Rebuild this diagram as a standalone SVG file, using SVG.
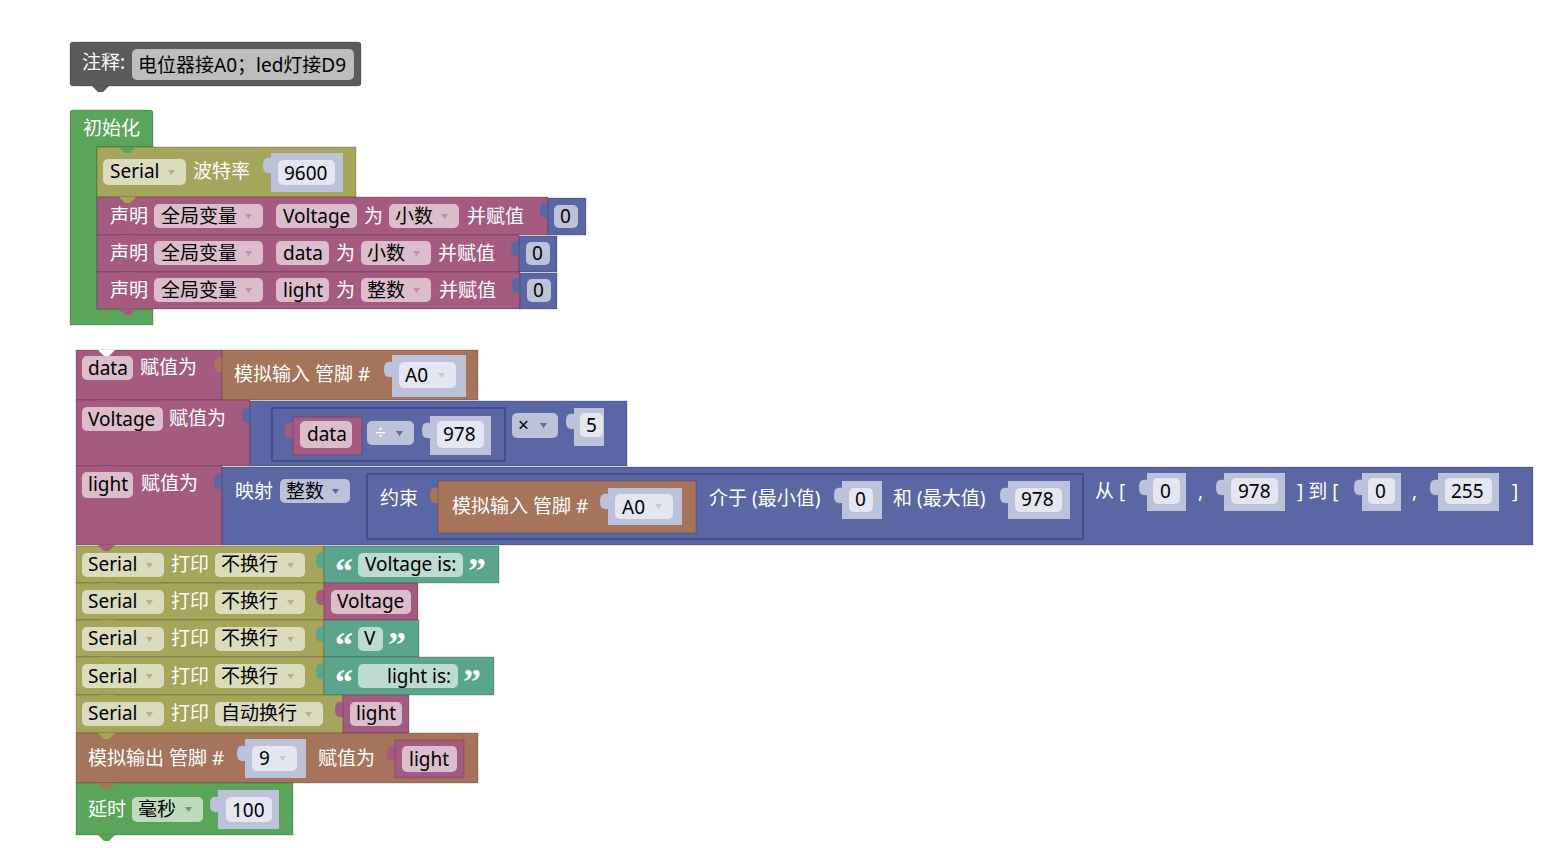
<svg xmlns="http://www.w3.org/2000/svg" xmlns:xlink="http://www.w3.org/1999/xlink" width="1557" height="848" viewBox="0 0 1557 848">
<style>
text{font-family:"Noto Sans","Noto Sans CJK SC",sans-serif;font-size:19px}
.t{fill:#ffffff}
.f{fill:#000000}
.q{fill:#ffffff;font-family:"Liberation Serif",serif;font-size:36px;font-weight:bold}
.b{stroke:rgba(0,0,0,0.2);stroke-width:1}
.fr{stroke:#3e4880;stroke-width:1.5}
.gy{fill:#5b5b5b}
.gn{fill:#5ba55b}
.ol{fill:#a5a55b}
.pk{fill:#a55b80}
.bl{fill:#5b67a5}
.br{fill:#a5745b}
.tl{fill:#5ba58c}
.lv{fill:#bdc2db}
.fgy{fill:#bdbdbd}
.fgn{fill:#bddbbd}
.fol{fill:#dbdbbd}
.fpk{fill:#dbbdcc}
.ftl{fill:#bddbd1}
.flv{fill:#e4e6f1}
.aol{fill:#b3b37a}
.apk{fill:#c28ea8}
.abl{fill:#5b67a5}
.alv{fill:#c3c7de}
.agn{fill:#5ba55b}
</style>
<defs>
<path id="tab" d="M0,0 C-2,0 -8,-2 -8,7.5 C-8,17 -2,15 0,15 Z"/>
<path id="dd" d="M0,0 h7 l-3.5,5 z"/>
<path id="nt" d="M0,0 l6,6 h5 l6,-6 z"/>
</defs>

<g id="comment">
<rect class="gy b" x="70" y="42" width="291" height="44" rx="3"/>
<use xlink:href="#nt" class="gy" x="92" y="86"/>
<text class="t" x="82" y="69">注释:</text>
<rect class="fgy" x="132" y="49" width="222" height="31" rx="5"/>
<text class="f" x="138" y="72">电位器接A0；led灯接D9</text>
</g>

<g id="setup">
<path class="gn b" d="M70,113 a3,3 0 0 1 3,-3 H150 a3,3 0 0 1 3,3 V147 H97 V309 H153 V325 H70 Z"/>
<text class="t" x="83" y="135">初始化</text>
</g>

<g id="serial-begin">
<rect class="ol b" x="97" y="147" width="259" height="50"/>
<use xlink:href="#nt" class="gn" x="119" y="147"/>
<rect class="fol" x="103" y="159" width="83" height="26" rx="5"/>
<text class="f" x="110" y="178">Serial</text>
<use xlink:href="#dd" class="aol" x="168" y="170"/>
<text class="t" x="193" y="178">波特率</text>
<use xlink:href="#tab" class="lv" x="271" y="158"/>
<rect class="lv" x="271" y="153" width="72" height="39"/>
<rect class="flv" x="278" y="160" width="57" height="25" rx="5"/>
<text class="f" x="284" y="180">9600</text>
</g>

<g id="decl-voltage">
<rect class="pk b" x="97" y="197" width="451" height="38"/>
<use xlink:href="#nt" class="ol" x="119" y="197"/>
<text class="t" x="110" y="223">声明</text>
<rect class="fpk" x="154" y="204" width="109" height="24" rx="5"/>
<text class="f" x="161" y="223">全局变量</text>
<use xlink:href="#dd" class="apk" x="245" y="214"/>
<rect class="fpk" x="276" y="204" width="81" height="24" rx="5"/>
<text class="f" x="283" y="223">Voltage</text>
<text class="t" x="364" y="223">为</text>
<rect class="fpk" x="389" y="204" width="70" height="24" rx="5"/>
<text class="f" x="395" y="223">小数</text>
<use xlink:href="#dd" class="apk" x="441" y="214"/>
<text class="t" x="467" y="223">并赋值</text>
<use xlink:href="#tab" class="bl" x="548" y="203"/>
<rect class="bl b" x="548" y="198" width="38" height="37"/>
<rect class="lv" x="554" y="205" width="24" height="23" rx="5"/>
<text class="f" x="560" y="223">0</text>
</g>

<g id="decl-data">
<rect class="pk b" x="97" y="235" width="422" height="37"/>
<use xlink:href="#nt" class="pk" x="119" y="235"/>
<text class="t" x="110" y="260">声明</text>
<rect class="fpk" x="154" y="241" width="109" height="24" rx="5"/>
<text class="f" x="161" y="260">全局变量</text>
<use xlink:href="#dd" class="apk" x="245" y="251"/>
<rect class="fpk" x="276" y="241" width="53" height="24" rx="5"/>
<text class="f" x="283" y="260">data</text>
<text class="t" x="336" y="260">为</text>
<rect class="fpk" x="361" y="241" width="70" height="24" rx="5"/>
<text class="f" x="367" y="260">小数</text>
<use xlink:href="#dd" class="apk" x="413" y="251"/>
<text class="t" x="438" y="260">并赋值</text>
<use xlink:href="#tab" class="bl" x="519" y="241"/>
<rect class="bl b" x="519" y="236" width="38" height="36"/>
<rect class="lv" x="526" y="242" width="24" height="23" rx="5"/>
<text class="f" x="532" y="260">0</text>
</g>

<g id="decl-light">
<rect class="pk b" x="97" y="272" width="423" height="37"/>
<use xlink:href="#nt" class="pk" x="119" y="272"/>
<text class="t" x="110" y="297">声明</text>
<rect class="fpk" x="154" y="278" width="109" height="24" rx="5"/>
<text class="f" x="161" y="297">全局变量</text>
<use xlink:href="#dd" class="apk" x="245" y="288"/>
<rect class="fpk" x="276" y="278" width="53" height="24" rx="5"/>
<text class="f" x="283" y="297">light</text>
<text class="t" x="336" y="297">为</text>
<rect class="fpk" x="361" y="278" width="70" height="24" rx="5"/>
<text class="f" x="367" y="297">整数</text>
<use xlink:href="#dd" class="apk" x="413" y="288"/>
<text class="t" x="439" y="297">并赋值</text>
<use xlink:href="#tab" class="bl" x="520" y="278"/>
<rect class="bl b" x="520" y="273" width="37" height="36"/>
<rect class="lv" x="527" y="279" width="24" height="23" rx="5"/>
<text class="f" x="533" y="297">0</text>
<use xlink:href="#nt" class="pk" x="119" y="309"/>
</g>

<g id="set-data">
<rect class="pk b" x="76" y="350" width="146" height="50"/>
<use xlink:href="#nt" fill="#ffffff" x="98" y="350"/>
<rect class="fpk" x="82" y="356" width="51" height="24" rx="5"/>
<text class="f" x="88" y="375">data</text>
<text class="t" x="140" y="374">赋值为</text>
<use xlink:href="#tab" class="br" x="222" y="357"/>
<rect class="br b" x="222" y="350" width="256" height="50"/>
<text class="t" x="234" y="381">模拟输入 管脚 #</text>
<use xlink:href="#tab" class="lv" x="392" y="362"/>
<rect class="lv" x="392" y="355" width="74" height="42"/>
<rect class="flv" x="399" y="362" width="57" height="26" rx="5"/>
<text class="f" x="405" y="382">A0</text>
<use xlink:href="#dd" class="alv" x="438" y="373"/>
</g>

<g id="set-voltage">
<rect class="pk b" x="76" y="400" width="174" height="66"/>
<use xlink:href="#nt" class="pk" x="98" y="400"/>
<rect class="fpk" x="82" y="407" width="81" height="24" rx="5"/>
<text class="f" x="88" y="426">Voltage</text>
<text class="t" x="169" y="425">赋值为</text>
<use xlink:href="#tab" class="bl" x="250" y="408"/>
<rect class="bl b" x="250" y="401" width="377" height="65"/>
<use xlink:href="#tab" class="bl" x="272" y="415"/>
<rect class="bl fr" x="272" y="408" width="233" height="53"/>
<use xlink:href="#tab" class="pk" x="293" y="423"/>
<rect class="pk b" x="293" y="417" width="69" height="38"/>
<rect class="fpk" x="300" y="421" width="52" height="27" rx="5"/>
<text class="f" x="307" y="441">data</text>
<rect class="lv" x="367" y="421" width="47" height="24" rx="5"/>
<text class="t" x="375" y="439">÷</text>
<use xlink:href="#dd" class="abl" x="396" y="431"/>
<use xlink:href="#tab" class="lv" x="430" y="423"/>
<rect class="lv" x="430" y="416" width="61" height="39"/>
<rect class="flv" x="437" y="421" width="47" height="27" rx="5"/>
<text class="f" x="443" y="441">978</text>
<rect class="lv" x="512" y="413" width="46" height="25" rx="5"/>
<text class="f" x="518" y="432">×</text>
<use xlink:href="#dd" class="abl" x="540" y="423"/>
<use xlink:href="#tab" class="lv" x="574" y="414"/>
<rect class="lv" x="574" y="408" width="30" height="38"/>
<rect class="flv" x="580" y="413" width="23" height="24" rx="5"/>
<text class="f" x="586" y="432">5</text>
</g>

<g id="set-light">
<rect class="pk b" x="76" y="466" width="146" height="79"/>
<use xlink:href="#nt" class="pk" x="98" y="466"/>
<rect class="fpk" x="82" y="472" width="51" height="26" rx="5"/>
<text class="f" x="88" y="491">light</text>
<text class="t" x="141" y="490">赋值为</text>
<use xlink:href="#tab" class="bl" x="222" y="474"/>
<rect class="bl b" x="222" y="467" width="1311" height="78"/>
<text class="t" x="235" y="498">映射</text>
<rect class="lv" x="280" y="479" width="70" height="24" rx="5"/>
<text class="f" x="286" y="498">整数</text>
<use xlink:href="#dd" class="abl" x="332" y="489"/>
<use xlink:href="#tab" class="bl" x="367" y="481"/>
<rect class="bl fr" x="367" y="474" width="716" height="65"/>
<text class="t" x="380" y="505">约束</text>
<use xlink:href="#tab" class="br" x="438" y="488"/>
<rect class="br b" x="438" y="481" width="258" height="52"/>
<text class="t" x="452" y="513">模拟输入 管脚 #</text>
<use xlink:href="#tab" class="lv" x="608" y="494"/>
<rect class="lv" x="608" y="488" width="74" height="37"/>
<rect class="flv" x="615" y="494" width="58" height="25" rx="5"/>
<text class="f" x="622" y="514">A0</text>
<use xlink:href="#dd" class="alv" x="655" y="504"/>
<text class="t" x="709" y="505">介于 (最小值)</text>
<use xlink:href="#tab" class="lv" x="842" y="488"/>
<rect class="lv" x="842" y="481" width="40" height="38"/>
<rect class="flv" x="849" y="488" width="24" height="24" rx="5"/>
<text class="f" x="855" y="506">0</text>
<text class="t" x="893" y="505">和 (最大值)</text>
<use xlink:href="#tab" class="lv" x="1008" y="488"/>
<rect class="lv" x="1008" y="481" width="62" height="38"/>
<rect class="flv" x="1015" y="488" width="47" height="24" rx="5"/>
<text class="f" x="1021" y="506">978</text>
<text class="t" x="1095" y="498">从 [</text>
<use xlink:href="#tab" class="lv" x="1147" y="480"/>
<rect class="lv" x="1147" y="473" width="39" height="38"/>
<rect class="flv" x="1153" y="478" width="27" height="26" rx="5"/>
<text class="f" x="1160" y="498">0</text>
<text class="t" x="1198" y="498">,</text>
<use xlink:href="#tab" class="lv" x="1224" y="480"/>
<rect class="lv" x="1224" y="473" width="61" height="38"/>
<rect class="flv" x="1231" y="478" width="47" height="26" rx="5"/>
<text class="f" x="1238" y="498">978</text>
<text class="t" x="1297" y="498">] 到 [</text>
<use xlink:href="#tab" class="lv" x="1362" y="480"/>
<rect class="lv" x="1362" y="473" width="39" height="38"/>
<rect class="flv" x="1368" y="478" width="27" height="26" rx="5"/>
<text class="f" x="1375" y="498">0</text>
<text class="t" x="1412" y="498">,</text>
<use xlink:href="#tab" class="lv" x="1438" y="480"/>
<rect class="lv" x="1438" y="473" width="61" height="38"/>
<rect class="flv" x="1445" y="478" width="47" height="26" rx="5"/>
<text class="f" x="1451" y="498">255</text>
<text class="t" x="1512" y="498">]</text>
</g>

<g id="print-1">
<rect class="ol b" x="76" y="546" width="248" height="37"/>
<use xlink:href="#nt" class="pk" x="98" y="545"/>
<rect class="fol" x="82" y="553" width="82" height="24" rx="5"/>
<text class="f" x="88" y="571">Serial</text>
<use xlink:href="#dd" class="aol" x="146" y="563"/>
<text class="t" x="171" y="571">打印</text>
<rect class="fol" x="215" y="553" width="90" height="24" rx="5"/>
<text class="f" x="221" y="571">不换行</text>
<use xlink:href="#dd" class="aol" x="287" y="563"/>
<use xlink:href="#tab" class="tl" x="324" y="553"/>
<rect class="tl b" x="324" y="546" width="175" height="37"/>
<text class="q" x="335" y="583">“</text>
<rect class="ftl" x="358" y="553" width="105" height="24" rx="5"/>
<text class="f" x="365" y="571">Voltage is:</text>
<text class="q" x="468" y="583">”</text>
</g>

<g id="print-2">
<rect class="ol b" x="76" y="583" width="248" height="37"/>
<use xlink:href="#nt" class="ol" x="98" y="583"/>
<rect class="fol" x="82" y="590" width="82" height="24" rx="5"/>
<text class="f" x="88" y="608">Serial</text>
<use xlink:href="#dd" class="aol" x="146" y="600"/>
<text class="t" x="171" y="608">打印</text>
<rect class="fol" x="215" y="590" width="90" height="24" rx="5"/>
<text class="f" x="221" y="608">不换行</text>
<use xlink:href="#dd" class="aol" x="287" y="600"/>
<use xlink:href="#tab" class="pk" x="324" y="590"/>
<rect class="pk b" x="324" y="583" width="94" height="37"/>
<rect class="fpk" x="331" y="590" width="80" height="24" rx="5"/>
<text class="f" x="337" y="608">Voltage</text>
</g>

<g id="print-3">
<rect class="ol b" x="76" y="620" width="248" height="37"/>
<use xlink:href="#nt" class="ol" x="98" y="620"/>
<rect class="fol" x="82" y="627" width="82" height="24" rx="5"/>
<text class="f" x="88" y="645">Serial</text>
<use xlink:href="#dd" class="aol" x="146" y="637"/>
<text class="t" x="171" y="645">打印</text>
<rect class="fol" x="215" y="627" width="90" height="24" rx="5"/>
<text class="f" x="221" y="645">不换行</text>
<use xlink:href="#dd" class="aol" x="287" y="637"/>
<use xlink:href="#tab" class="tl" x="324" y="627"/>
<rect class="tl b" x="324" y="620" width="95" height="37"/>
<text class="q" x="335" y="657">“</text>
<rect class="ftl" x="358" y="627" width="25" height="24" rx="5"/>
<text class="f" x="364" y="645">V</text>
<text class="q" x="388" y="657">”</text>
</g>

<g id="print-4">
<rect class="ol b" x="76" y="657" width="248" height="38"/>
<use xlink:href="#nt" class="ol" x="98" y="657"/>
<rect class="fol" x="82" y="664" width="82" height="24" rx="5"/>
<text class="f" x="88" y="683">Serial</text>
<use xlink:href="#dd" class="aol" x="146" y="674"/>
<text class="t" x="171" y="683">打印</text>
<rect class="fol" x="215" y="664" width="90" height="24" rx="5"/>
<text class="f" x="221" y="683">不换行</text>
<use xlink:href="#dd" class="aol" x="287" y="674"/>
<use xlink:href="#tab" class="tl" x="324" y="664"/>
<rect class="tl b" x="324" y="657" width="170" height="38"/>
<text class="q" x="335" y="694">“</text>
<rect class="ftl" x="358" y="664" width="100" height="24" rx="5"/>
<text class="f" x="387" y="683">light is:</text>
<text class="q" x="463" y="694">”</text>
</g>

<g id="print-5">
<rect class="ol b" x="76" y="695" width="267" height="38"/>
<use xlink:href="#nt" class="ol" x="98" y="695"/>
<rect class="fol" x="82" y="702" width="82" height="24" rx="5"/>
<text class="f" x="88" y="720">Serial</text>
<use xlink:href="#dd" class="aol" x="146" y="712"/>
<text class="t" x="171" y="720">打印</text>
<rect class="fol" x="215" y="702" width="108" height="24" rx="5"/>
<text class="f" x="221" y="720">自动换行</text>
<use xlink:href="#dd" class="aol" x="305" y="712"/>
<use xlink:href="#tab" class="pk" x="343" y="702"/>
<rect class="pk b" x="343" y="695" width="66" height="38"/>
<rect class="fpk" x="350" y="702" width="52" height="24" rx="5"/>
<text class="f" x="356" y="720">light</text>
</g>

<g id="analog-write">
<rect class="br b" x="76" y="733" width="402" height="50"/>
<use xlink:href="#nt" class="ol" x="98" y="733"/>
<text class="t" x="88" y="765">模拟输出 管脚 #</text>
<use xlink:href="#tab" class="lv" x="245" y="746"/>
<rect class="lv" x="245" y="739" width="61" height="39"/>
<rect class="flv" x="252" y="746" width="45" height="25" rx="5"/>
<text class="f" x="259" y="765">9</text>
<use xlink:href="#dd" class="alv" x="279" y="756"/>
<text class="t" x="318" y="765">赋值为</text>
<use xlink:href="#tab" class="pk" x="395" y="746"/>
<rect class="pk b" x="395" y="740" width="69" height="38"/>
<rect class="fpk" x="402" y="746" width="55" height="26" rx="5"/>
<text class="f" x="409" y="766">light</text>
</g>

<g id="delay">
<rect class="gn b" x="76" y="783" width="217" height="52"/>
<use xlink:href="#nt" class="br" x="98" y="783"/>
<use xlink:href="#nt" class="gn" x="98" y="835"/>
<text class="t" x="88" y="816">延时</text>
<rect class="fgn" x="132" y="797" width="71" height="25" rx="5"/>
<text class="f" x="138" y="816">毫秒</text>
<use xlink:href="#dd" class="agn" x="185" y="807"/>
<use xlink:href="#tab" class="lv" x="218" y="797"/>
<rect class="lv" x="218" y="790" width="61" height="39"/>
<rect class="flv" x="226" y="797" width="46" height="25" rx="5"/>
<text class="f" x="232" y="817">100</text>
</g>

<g id="connectors"/>
</svg>
